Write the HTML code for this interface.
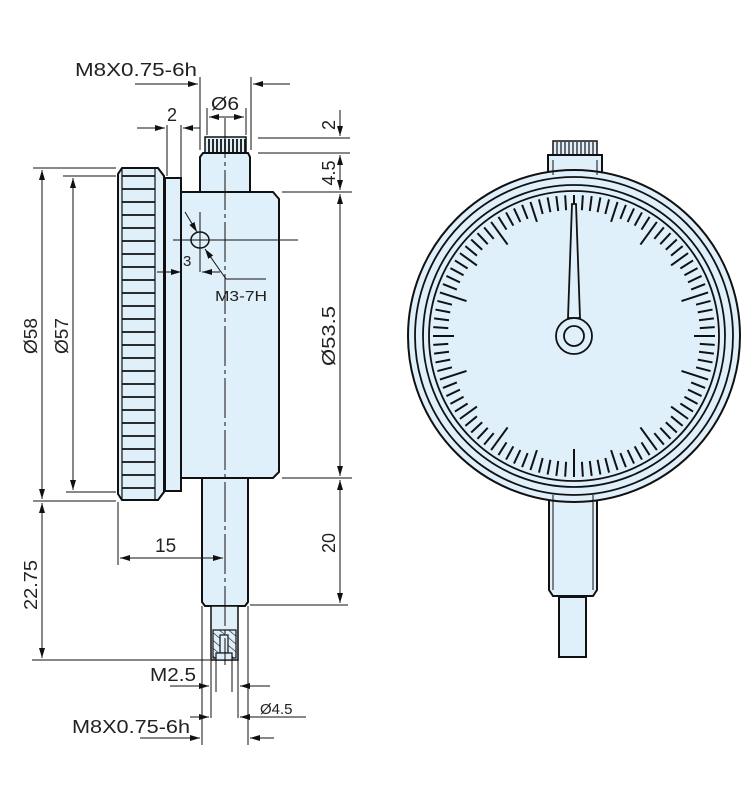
<!DOCTYPE html>
<html><head><meta charset="utf-8"><style>body{margin:0;background:#fff}svg{display:block}text{font-family:"Liberation Sans",sans-serif;fill:#222}</style></head>
<body>
<svg id="s" width="754" height="800" viewBox="0 0 754 800" xmlns="http://www.w3.org/2000/svg">
<defs>
<marker id="a" viewBox="0 0 10 6" refX="10" refY="3" markerWidth="10" markerHeight="6" orient="auto-start-reverse" markerUnits="userSpaceOnUse"><path d="M0,0L10,3L0,6z" fill="#111"/></marker>
<pattern id="h" width="6" height="6" patternUnits="userSpaceOnUse" patternTransform="rotate(-50)"><line x1="0" y1="0" x2="0" y2="6" stroke="#111" stroke-width="1.2"/></pattern>
</defs>
<g stroke="#111" fill="#dff0fb" stroke-width="2">
<path d="M122,168H158L164,176V492L158,500H122L118,494V174Z"/>
<rect x="165" y="178" width="16" height="313"/>
<path d="M181,192H273L279,199V472L273,478H181Z"/>
<rect x="205" y="137" width="41" height="16" stroke-width="1.5"/>
<path d="M203,153H248L250,157V192H200V157Z"/>
<path d="M202,478H248V602L245,606H205L202,602Z"/>
<rect x="211" y="606" width="27" height="54" stroke-width="1.5"/>
</g>
<g id="knurl" stroke="#111" stroke-width="1.8"></g>
<g stroke="#111" stroke-width="1.2" fill="none">
<line x1="122" y1="168" x2="122" y2="500"/><line x1="155" y1="168" x2="155" y2="500"/>
<rect x="213" y="630" width="23" height="28" fill="url(#h)"/>
<rect x="220" y="635" width="8" height="18" fill="#dff0fb"/>
<rect x="216" y="653" width="16" height="7" fill="#dff0fb"/>
<ellipse cx="200" cy="240" rx="9" ry="8" stroke-width="1.5" fill="#dff0fb"/>
<line x1="225" y1="118" x2="225" y2="665" stroke-width="1" stroke-dasharray="40,4,4,4"/>
<line x1="173" y1="240" x2="298" y2="240" stroke-width="1"/>
<line x1="200" y1="212" x2="200" y2="272" stroke-width="1"/>
<line x1="185" y1="212" x2="197" y2="232" marker-end="url(#a)" stroke-width="1"/>
<line x1="226" y1="279" x2="205" y2="249" marker-end="url(#a)" stroke-width="1"/>
<line x1="226" y1="279" x2="266" y2="279" stroke-width="1"/>
</g>
<g stroke="#111" stroke-width="1" fill="none">
<line x1="200" y1="77" x2="200" y2="150"/><line x1="251" y1="77" x2="251" y2="150"/>
<line x1="135" y1="84" x2="198" y2="84" marker-end="url(#a)"/><line x1="290" y1="84" x2="253" y2="84" marker-end="url(#a)"/>
<line x1="207" y1="108" x2="207" y2="135"/><line x1="246" y1="108" x2="246" y2="135"/>
<line x1="209" y1="117" x2="244" y2="117" marker-start="url(#a)" marker-end="url(#a)"/>
<line x1="167" y1="125" x2="167" y2="176"/><line x1="181" y1="125" x2="181" y2="190"/>
<line x1="137" y1="128" x2="165" y2="128" marker-end="url(#a)"/><line x1="200" y1="128" x2="183" y2="128" marker-end="url(#a)"/>
<line x1="157" y1="272" x2="181" y2="272" marker-end="url(#a)"/><line x1="220" y1="272" x2="202" y2="272" marker-end="url(#a)"/>
<line x1="258" y1="138" x2="350" y2="138"/><line x1="258" y1="153" x2="350" y2="153"/>
<line x1="282" y1="192" x2="352" y2="192"/><line x1="282" y1="478" x2="352" y2="478"/><line x1="250" y1="605" x2="348" y2="605"/>
<line x1="340" y1="110" x2="340" y2="136" marker-end="url(#a)"/>
<line x1="340" y1="155" x2="340" y2="190" marker-start="url(#a)" marker-end="url(#a)"/>
<line x1="340" y1="194" x2="340" y2="476" marker-start="url(#a)" marker-end="url(#a)"/>
<line x1="340" y1="480" x2="340" y2="603" marker-start="url(#a)" marker-end="url(#a)"/>
<line x1="33" y1="168" x2="116" y2="168"/><line x1="33" y1="501" x2="116" y2="501"/>
<line x1="63" y1="176" x2="116" y2="176"/><line x1="66" y1="492" x2="116" y2="492"/>
<line x1="42" y1="170" x2="42" y2="499" marker-start="url(#a)" marker-end="url(#a)"/>
<line x1="73" y1="178" x2="73" y2="490" marker-start="url(#a)" marker-end="url(#a)"/>
<line x1="42" y1="503" x2="42" y2="658" marker-start="url(#a)" marker-end="url(#a)"/>
<line x1="32" y1="660" x2="210" y2="660"/>
<line x1="118" y1="502" x2="118" y2="565"/>
<line x1="120" y1="558" x2="223" y2="558" marker-start="url(#a)" marker-end="url(#a)"/>
<line x1="216" y1="660" x2="216" y2="692"/><line x1="232" y1="660" x2="232" y2="692"/>
<line x1="211" y1="660" x2="211" y2="718"/><line x1="238" y1="660" x2="238" y2="718"/>
<line x1="202" y1="606" x2="202" y2="745"/><line x1="248" y1="606" x2="248" y2="745"/>
<line x1="170" y1="686" x2="209" y2="686" marker-end="url(#a)"/><line x1="270" y1="686" x2="240" y2="686" marker-end="url(#a)"/>
<line x1="190" y1="717" x2="209" y2="717" marker-end="url(#a)"/><line x1="306" y1="717" x2="240" y2="717" marker-end="url(#a)"/>
<line x1="140" y1="738" x2="200" y2="738" marker-end="url(#a)"/><line x1="274" y1="738" x2="250" y2="738" marker-end="url(#a)"/>
</g>
<g font-size="18">
<text x="75" y="76" textLength="122" lengthAdjust="spacingAndGlyphs">M8X0.75-6h</text>
<text x="211" y="110" textLength="28" lengthAdjust="spacingAndGlyphs">Ø6</text>
<text x="167" y="121">2</text>
<text x="183" y="266" font-size="15">3</text>
<text x="215" y="301" font-size="15" textLength="52" lengthAdjust="spacingAndGlyphs">M3-7H</text>
<text x="155" y="552" font-size="19">15</text>
<text x="150" y="681" textLength="46" lengthAdjust="spacingAndGlyphs">M2.5</text>
<text x="260" y="714" font-size="15">Ø4.5</text>
<text x="72" y="733" textLength="118" lengthAdjust="spacingAndGlyphs">M8X0.75-6h</text>
<text transform="translate(335,125) rotate(-90)" text-anchor="middle">2</text>
<text transform="translate(335,173) rotate(-90)" text-anchor="middle">4.5</text>
<text transform="translate(335,336) rotate(-90)" text-anchor="middle" textLength="60" lengthAdjust="spacingAndGlyphs">Ø53.5</text>
<text transform="translate(335,543) rotate(-90)" text-anchor="middle">20</text>
<text transform="translate(37,336) rotate(-90)" text-anchor="middle" textLength="36" lengthAdjust="spacingAndGlyphs">Ø58</text>
<text transform="translate(68,336) rotate(-90)" text-anchor="middle" textLength="36" lengthAdjust="spacingAndGlyphs">Ø57</text>
<text transform="translate(37,585) rotate(-90)" text-anchor="middle" textLength="50" lengthAdjust="spacingAndGlyphs">22.75</text>
</g>
<g stroke="#111" fill="#dff0fb" stroke-width="2">
<rect x="553" y="141" width="44" height="14" stroke-width="1.5"/>
<rect x="548" y="155" width="54" height="20"/>
<path d="M549,490H597V590L593,596H553L549,590Z"/>
<rect x="559" y="597" width="27" height="60"/>
<circle cx="574" cy="336" r="166"/>
<circle cx="574" cy="336" r="159" stroke-width="1.8"/>
<circle cx="574" cy="336" r="151" stroke-width="1.8"/>
<circle cx="574" cy="336" r="145" stroke-width="1.8"/>
</g>
<g stroke="#111" stroke-width="1" fill="none">
<line x1="553" y1="160" x2="553" y2="175"/><line x1="597" y1="160" x2="597" y2="175"/>
<line x1="553" y1="495" x2="553" y2="590"/><line x1="593" y1="495" x2="593" y2="590"/>
</g>
<g id="ticks" stroke="#111" stroke-width="2"></g>
<g id="kn2" stroke="#111" stroke-width="1.2"></g>
<g stroke="#111" fill="#dff0fb" stroke-width="1.8">
<path d="M572,204L576,204L580,318L568,318Z"/>
<circle cx="574" cy="336" r="18"/>
<circle cx="574" cy="336" r="10"/>
</g>
</svg>
<script>
var ns="http://www.w3.org/2000/svg";
function L(g,x1,y1,x2,y2){var l=document.createElementNS(ns,"line");l.setAttribute("x1",x1);l.setAttribute("y1",y1);l.setAttribute("x2",x2);l.setAttribute("y2",y2);document.getElementById(g).appendChild(l);}
for(var y=176;y<496;y+=13)L("knurl",122,y,155,y);
for(var x=209;x<246;x+=4)L("knurl",x,139,x,152);
for(var x=557;x<597;x+=4)L("kn2",x,142,x,154);
for(var i=0;i<100;i++){var a=i*Math.PI/50,r2=141,r1=(i%10==0)?113:(i%5==0?120:126);var s=Math.sin(a),c=Math.cos(a);L("ticks",574+r1*s,336-r1*c,574+r2*s,336-r2*c);}
</script>
</body></html>
